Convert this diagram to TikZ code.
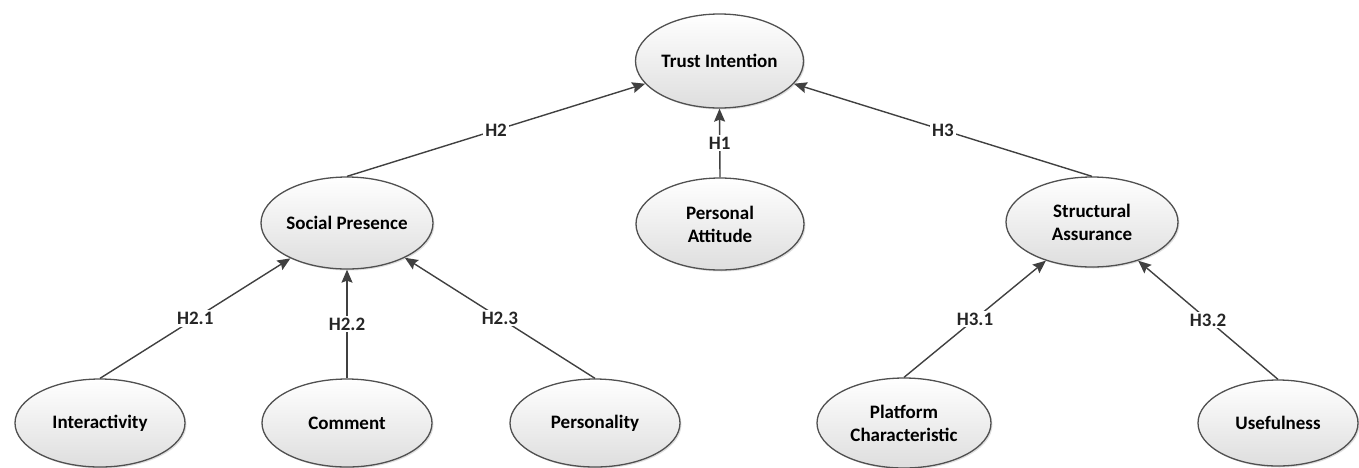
\documentclass[tikz,border=0pt]{standalone}
\usepackage{fontspec}
\setmainfont{Carlito}
\usetikzlibrary{shapes.geometric,arrows.meta,shadows}
\definecolor{edgecol}{HTML}{404040}
\definecolor{bordercol}{HTML}{505050}
\tikzset{
  construct/.style={ellipse, draw=bordercol, line width=1.3pt, inner sep=0pt,
    top color=white, bottom color=black!13, align=center,
    font=\fontsize{19}{23}\selectfont\bfseries,
    drop shadow={shadow xshift=1.5pt, shadow yshift=-1.5pt, opacity=0.25}},
  link/.style={draw=edgecol, line width=1.4pt, -{Stealth[length=13pt,width=11pt,inset=2pt]}},
  lbl/.style={fill=white, inner sep=2pt, font=\fontsize{19}{22}\selectfont\bfseries, text=black!85}
}
\begin{document}
\begin{tikzpicture}[x=1pt,y=-1pt]
\useasboundingbox (0,0) rectangle (1359,467);
\node[construct, minimum width=168pt, minimum height=94pt] (TI) at (719.5,61) {Trust Intention};
\node[construct, minimum width=172pt, minimum height=92pt] (SP) at (347,223) {Social Presence};
\node[construct, minimum width=168pt, minimum height=92pt] (PA) at (720,224) {Personal\\Attitude};
\node[construct, minimum width=172pt, minimum height=90pt] (SA) at (1092,222) {Structural\\Assurance};
\node[construct, minimum width=170pt, minimum height=88pt] (IN) at (100,423) {Interactivity};
\node[construct, minimum width=170pt, minimum height=88pt] (CO) at (347,423) {Comment};
\node[construct, minimum width=170pt, minimum height=88pt] (PE) at (595,423) {Personality};
\node[construct, minimum width=174pt, minimum height=90pt] (PC) at (904,423) {Platform\\Characteristic};
\node[construct, minimum width=160pt, minimum height=86pt] (US) at (1278,423) {Usefulness};

\draw[link] (SP.north) -- node[lbl] {H2} (TI.197);
\draw[link] (PA.north) -- node[lbl] {H1} (TI.south);
\draw[link] (SA.north) -- node[lbl] {H3} (TI.343);
\draw[link] (IN.north) -- node[lbl] {H2.1} (SP.212);
\draw[link] (CO.north) -- node[lbl] {H2.2} (SP.south);
\draw[link] (PE.north) -- node[lbl] {H2.3} (SP.329);
\draw[link] (PC.north) -- node[lbl] {H3.1} (SA.220);
\draw[link] (US.north) -- node[lbl] {H3.2} (SA.320);
\end{tikzpicture}
\end{document}
